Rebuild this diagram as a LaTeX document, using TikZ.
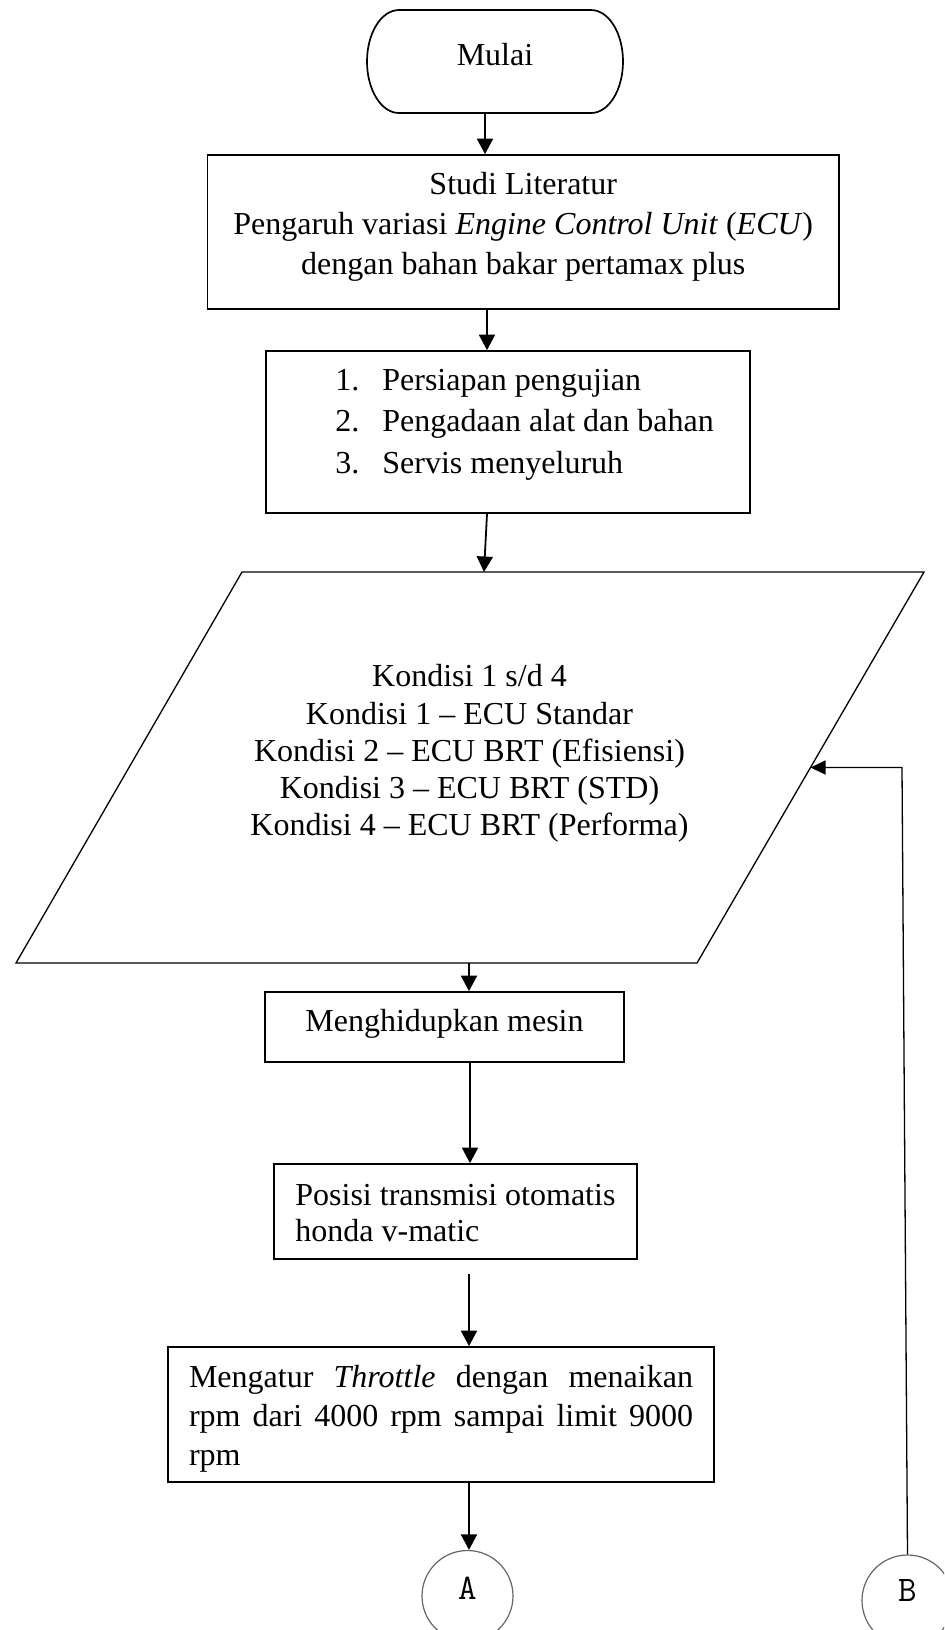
\documentclass[tikz,border=0pt]{standalone}
\usepackage{fontspec}
\setmainfont{Liberation Serif}
\usetikzlibrary{arrows.meta,calc}

\tikzset{
  boxline/.style={draw, line width=0.85pt, inner sep=0pt},
  flow/.style={line width=0.9pt, -{Triangle[length=7.75pt,width=8pt]}},
  backflow/.style={line width=0.65pt, -{Triangle[length=7.5pt,width=7pt]}},
  txt/.style={inner sep=0pt},
  conn/.style={circle, draw=black!60, line width=0.6pt, minimum size=45.5pt,
    inner sep=0pt, font=\ttfamily\fontsize{18}{22}\selectfont},
}

\begin{document}
\begin{tikzpicture}[x=0.5pt,y=-0.5pt,
  every node/.style={font=\fontsize{16}{20}\selectfont}]
\useasboundingbox (0,0) rectangle (944,1630);
\clip (0,0) rectangle (944,1630);

% start terminal
\node[inner sep=0pt, outer sep=0pt, minimum width=128pt, minimum height=51.5pt,
      text height=11pt, text depth=7.5pt] (start) at (495,61.5) {Mulai};
\draw[line width=0.85pt] ([xshift=16pt]start.north west) -- ([xshift=-16pt]start.north east)
  arc[start angle=90, end angle=-90, x radius=16pt, y radius=25.75pt]
  -- ([xshift=16pt]start.south west)
  arc[start angle=270, end angle=90, x radius=16pt, y radius=25.75pt] -- cycle;

% literature study
\node[boxline, minimum width=315.75pt, minimum height=77pt] (lit) at (523.25,232) {};
\node[txt, align=center] (littext) at (523.25,226)
  {\strut Studi Literatur\\
   \strut Pengaruh variasi \textit{Engine Control Unit} (\textit{ECU})\\
   \strut dengan bahan bakar pertamax plus};

% preparation
\node[boxline, minimum width=242pt, minimum height=81pt] (prep) at (508,432) {};
\node[txt, align=left, anchor=west, font=\fontsize{16}{20.75}\selectfont] (preptext) at (335,423.2)
  {\strut\makebox[23.5pt][l]{1.}Persiapan pengujian\\
   \strut\makebox[23.5pt][l]{2.}Pengadaan alat dan bahan\\
   \strut\makebox[23.5pt][l]{3.}Servis menyeluruh};

% test conditions (input parallelogram)
\coordinate (pTL) at (242,572);
\coordinate (pTR) at (924,572);
\coordinate (pBR) at (697,963);
\coordinate (pBL) at (16,963);
\coordinate (pR) at ($(pTR)!0.5!(pBR)$);
\draw[line width=0.65pt] (pTL) -- (pTR) -- (pBR) -- (pBL) -- cycle;
\node[txt, align=center, font=\fontsize{16}{18.625}\selectfont] (cond) at (469.5,754)
  {\strut Kondisi 1 s/d 4\\
   \strut Kondisi 1 – ECU Standar\\
   \strut Kondisi 2 – ECU BRT (Efisiensi)\\
   \strut Kondisi 3 – ECU BRT (STD)\\
   \strut Kondisi 4 – ECU BRT (Performa)};

% engine start
\node[boxline, minimum width=179.5pt, minimum height=35pt,
      text height=10pt, text depth=6pt] (mesin) at (444.5,1027) {Menghidupkan mesin};

% transmission position
\node[boxline, minimum width=181.5pt, minimum height=47.5pt] (trans) at (455.5,1211.5) {};
\node[txt, align=left, anchor=west, font=\fontsize{16}{18}\selectfont] (transtext) at (295,1215.8)
  {\strut Posisi transmisi otomatis\\
   \strut honda v-matic};

% throttle setting
\node[boxline, minimum width=273pt, minimum height=67.5pt] (throttle) at (441,1414.5) {};
\node[txt, text width=252pt, align=justify, font=\fontsize{16}{19.5}\selectfont] (throttletext) at (441,1418.2)
  {\hyphenpenalty=10000 \tolerance=9999 \strut Mengatur \textit{Throttle} dengan menaikan
   rpm dari 4000 rpm sampai limit 9000 rpm\strut};

% off-page connectors
\node[conn, text height=10.9pt, text depth=7pt] (conA) at (467.5,1596) {A};
\node[conn, text height=10.9pt, text depth=9.5pt] (conB) at (907.5,1600.5) {B};

% connector columns
\coordinate (xa) at (485,0);
\coordinate (xb) at (487,0);
\coordinate (xd) at (484,0);
\coordinate (xc) at (469,0);
\coordinate (xe) at (470,0);
\coordinate (xf) at (902,0);

\draw[flow] (start.south -| xa) -- (lit.north -| xa);
\draw[flow] (lit.south -| xb) -- (prep.north -| xb);
\draw[flow] (prep.south -| xb) -- (xd |- pTL);
\draw[flow] (xc |- pBL) -- (mesin.north -| xc);
\draw[flow] (mesin.south -| xe) -- (trans.north -| xe);
\draw[flow] (trans.south -| xc) ++(0,14) -- (throttle.north -| xc);
\draw[flow] (throttle.south -| xc) -- (conA.north -| xc);
\draw[backflow] (conB.north) -- (xf |- pR) -- (pR);
\end{tikzpicture}
\end{document}
